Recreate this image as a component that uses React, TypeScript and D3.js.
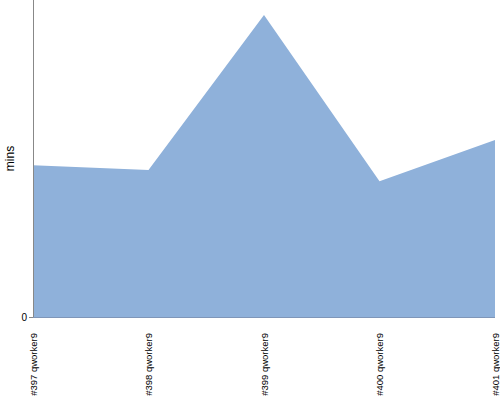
import React from "react";
import * as d3 from "d3";

const categories = ["#397 qworker9", "#398 qworker9", "#399 qworker9", "#400 qworker9", "#401 qworker9"];
const minutes = [50.3, 48.7, 100.0, 45.0, 58.6];
const yTicks = [0];
const yMax = 105;

export default function App() {
  const W = 500, H = 400;
  const left = 33, right = 495, top = 0, bottom = 317;
  const x = d3.scalePoint<string>().domain(categories).range([left, right]);
  const y = d3.scaleLinear().domain([0, yMax]).range([bottom, top]);
  const area = d3.area<number>()
    .x((_, i) => x(categories[i])!)
    .y0(y(0))
    .y1((d) => y(d));
  return (
    <svg width={W} height={H} style={{ position: "absolute", left: 0, top: 0 }} fontFamily="Liberation Sans, Arial, sans-serif">
      <path d={area(minutes)!} fill="#8fb1da" />
      <line x1={left} x2={right} y1={bottom + 0.5} y2={bottom + 0.5} stroke="#7f96b8" strokeWidth={1} />
      <line x1={left + 0.5} x2={left + 0.5} y1={top} y2={bottom} stroke="#888" strokeWidth={1} />
      {yTicks.map((t) => (
        <g key={t}>
          <line x1={left - 4} x2={left} y1={y(t) + 0.5} y2={y(t) + 0.5} stroke="#888" />
          <text x={left - 6} y={y(t)} dy="0.35em" textAnchor="end" fontSize={10} fill="#000">{t}</text>
        </g>
      ))}
      {categories.map((c) => (
        <text key={c} transform={`translate(${x(c)! + 3.5},${bottom + 16}) rotate(-90)`} textAnchor="end" fontSize={9.5} fill="#000">{c}</text>
      ))}
      <text transform={`translate(14,${(top + bottom) / 2}) rotate(-90)`} textAnchor="middle" fontSize={12} fill="#000">mins</text>
    </svg>
  );
}
